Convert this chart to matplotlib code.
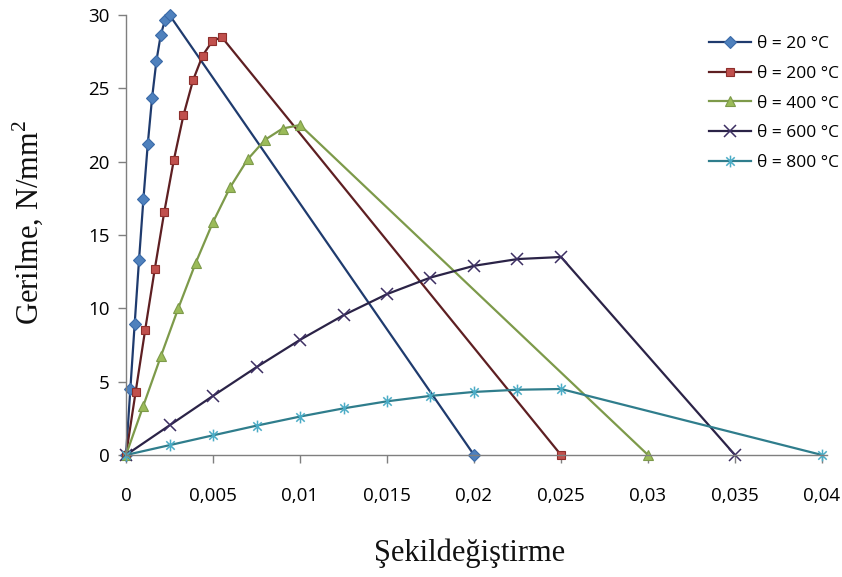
import matplotlib
matplotlib.use("Agg")
import matplotlib.pyplot as plt
from matplotlib.path import Path

# Stress-strain curves of concrete at elevated temperatures
strain_20 = [0, 0.00025, 0.0005, 0.00075, 0.001, 0.00125, 0.0015, 0.00175, 0.002, 0.00225, 0.0025, 0.02]
stress_20 = [0, 4.50, 8.96, 13.32, 17.44, 21.18, 24.37, 26.89, 28.66, 29.68, 30.0, 0]

strain_200 = [0, 0.00055, 0.0011, 0.00165, 0.0022, 0.00275, 0.0033, 0.00385, 0.0044, 0.00495, 0.0055, 0.025]
stress_200 = [0, 4.27, 8.52, 12.65, 16.57, 20.12, 23.15, 25.54, 27.23, 28.20, 28.5, 0]

strain_400 = [0, 0.001, 0.002, 0.003, 0.004, 0.005, 0.006, 0.007, 0.008, 0.009, 0.010, 0.030]
stress_400 = [0, 3.37, 6.72, 9.99, 13.08, 15.88, 18.28, 20.17, 21.50, 22.26, 22.5, 0]

strain_600 = [0, 0.0025, 0.005, 0.0075, 0.010, 0.0125, 0.015, 0.0175, 0.020, 0.0225, 0.025, 0.035]
stress_600 = [0, 2.02, 4.03, 5.99, 7.85, 9.53, 10.97, 12.10, 12.90, 13.36, 13.5, 0]

strain_800 = [0, 0.0025, 0.005, 0.0075, 0.010, 0.0125, 0.015, 0.0175, 0.020, 0.0225, 0.025, 0.040]
stress_800 = [0, 0.67, 1.34, 2.00, 2.62, 3.18, 3.66, 4.03, 4.30, 4.45, 4.5, 0]

series_labels = ["θ = 20 °C", "θ = 200 °C", "θ = 400 °C", "θ = 600 °C", "θ = 800 °C"]

x_ticks = [0, 0.005, 0.01, 0.015, 0.02, 0.025, 0.03, 0.035, 0.04]
x_tick_labels = ["0", "0,005", "0,01", "0,015", "0,02", "0,025", "0,03", "0,035", "0,04"]
y_ticks = [0, 5, 10, 15, 20, 25, 30]

# asterisk-like marker: an x with a vertical stroke
star_path = Path(
    [(-1, -1), (1, 1), (-1, 1), (1, -1), (0, -1.4), (0, 1.4)],
    [Path.MOVETO, Path.LINETO, Path.MOVETO, Path.LINETO, Path.MOVETO, Path.LINETO],
)

styles = [
    dict(color="#1f3b6e", marker="D", ms=6, mfc="#4f81bd", mec="#3a6aa8", mew=0.8),
    dict(color="#5e1f22", marker="s", ms=6, mfc="#c0504d", mec="#8e2f2c", mew=0.8),
    dict(color="#7d9a4a", marker="^", ms=7, mfc="#9bbb59", mec="#7d9a4a", mew=0.8),
    dict(color="#2b2347", marker="x", ms=8, mfc="none", mec="#3d2f63", mew=1.1),
    dict(color="#2f7d8c", marker=star_path, ms=8.5, mfc="none", mec="#4bacc6", mew=1.1),
]

plt.rcParams["font.family"] = ["Open Sans", "DejaVu Sans"]
plt.rcParams["mathtext.fontset"] = "custom"
plt.rcParams["mathtext.rm"] = "Liberation Serif"

fig = plt.figure(figsize=(8.42, 5.77), dpi=100)
ax = fig.add_axes([126 / 842, 1 - 455 / 577, (822 - 126) / 842, (455 - 15) / 577])

data = [
    (strain_20, stress_20),
    (strain_200, stress_200),
    (strain_400, stress_400),
    (strain_600, stress_600),
    (strain_800, stress_800),
]
for (xs, ys), lab, st in zip(data, series_labels, styles):
    ax.plot(xs, ys, lw=1.6, label=lab, clip_on=False, **st)

ax.set_xlim(0, 0.04)
ax.set_ylim(0, 30)
ax.set_xticks(x_ticks)
ax.set_xticklabels(x_tick_labels)
ax.set_yticks(y_ticks)

for side in ("top", "right"):
    ax.spines[side].set_visible(False)
for side in ("left", "bottom"):
    ax.spines[side].set_color("#7f7f7f")
    ax.spines[side].set_linewidth(1.0)
ax.spines["bottom"].set_bounds(0, 0.0403)

ax.tick_params(axis="both", direction="out", length=6, width=1, color="#7f7f7f",
               labelsize=13.5, labelcolor="#000000")
ax.tick_params(axis="y", pad=6)
ax.tick_params(axis="x", pad=17)

fig.text(470 / 842, 1 - 553 / 577, "Şekildeğiştirme", family="Liberation Serif",
         fontsize=22, ha="center", va="center", color="#111111")
fig.text(28 / 842, 1 - 222 / 577, r"Gerilme, N/mm$^{2}$", family="Liberation Serif",
         fontsize=22, ha="center", va="center", rotation=90, color="#111111")

leg = ax.legend(loc="upper left", bbox_to_anchor=(709 / 842, 1 - 36 / 577),
                bbox_transform=fig.transFigure, frameon=False, fontsize=12.5,
                handlelength=2.4, handletextpad=0.35, labelspacing=0.78,
                borderpad=0, borderaxespad=0)

fig.savefig("out.png", dpi=100, facecolor="white")
